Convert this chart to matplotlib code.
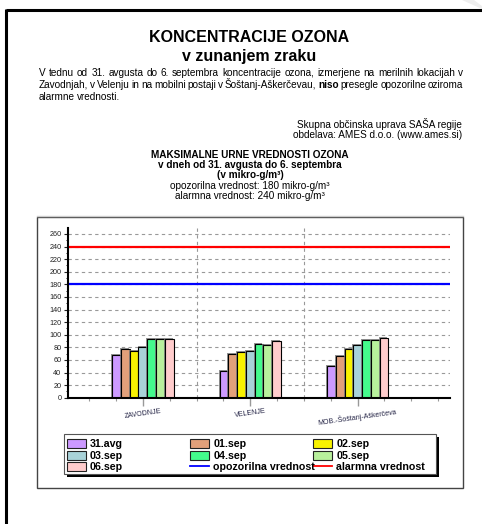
import matplotlib
matplotlib.use("Agg")
import matplotlib.pyplot as plt
from matplotlib.patches import Rectangle
import matplotlib.patheffects as pe
import numpy as np

plt.rcParams['font.family'] = ['Liberation Sans', 'DejaVu Sans']

# podatki (maksimalne urne vrednosti ozona, mikro-g/m3)
lokacije = ['ZAVODNJE', 'VELENJE', 'MOB.-Šoštanj-Aškerčeva']
dnevi = ['31.avg', '01.sep', '02.sep', '03.sep', '04.sep', '05.sep', '06.sep']
vrednosti = [
    [68, 43, 50],   # 31.avg
    [78, 69, 67],   # 01.sep
    [74, 73, 77],   # 02.sep
    [81, 74, 84],   # 03.sep
    [93, 86, 92],   # 04.sep
    [94, 83, 92],   # 05.sep
    [93, 90, 95],   # 06.sep
]
opozorilna = 180
alarmna = 240
barve = ['#CC99FF', '#E2A07A', '#F8F200', '#A8D2D8', '#44FA8C', '#B8F09C', '#FFCCCC']

W, H = 482, 524
fig = plt.figure(figsize=(W / 100, H / 100), dpi=100)

# ozadje v pikslih (okvirji, besedila, legenda)
bg = fig.add_axes([0, 0, 1, 1], zorder=0)
bg.set_xlim(0, W)
bg.set_ylim(H, 0)
bg.axis('off')

# okvir strani
bg.plot([6, W], [10, 10], color='black', lw=2.2, solid_capstyle='butt')
bg.plot([6, 6], [9, H], color='black', lw=2.2, solid_capstyle='butt')
bg.fill([462, 474, W, W], [0, 0, 6, 9], color='#eeeeee', lw=0)

# okvir grafa
bg.plot([37, 463], [215.5, 215.5], color='#cccccc', lw=1)
bg.add_patch(Rectangle((37, 216.7), 426, 271.3, fill=False, edgecolor='#444444', lw=1))

# naslov
bg.text(249.5, 42.4, 'KONCENTRACIJE OZONA', ha='center', va='baseline',
        fontsize=11.5, fontweight='bold')
bg.text(249.5, 60.5, 'v zunanjem zraku', ha='center', va='baseline',
        fontsize=11.5, fontweight='bold')

# odstavek, poravnan obojestransko
vrstice = [
    'V tednu od 31. avgusta do 6. septembra koncentracije ozona, izmerjene na merilnih lokacijah v',
    'Zavodnjah, v Velenju in na mobilni postaji v Šoštanj-Aškerčevau, niso presegle opozorilne oziroma',
    'alarmne vrednosti.',
]
vrstice_y = [75.5, 87.8, 100.1]
renderer = fig.canvas.get_renderer()
for i, (vr, y) in enumerate(zip(vrstice, vrstice_y)):
    besede = vr.split(' ')
    tt = [bg.text(0, y, b, ha='left', va='baseline', fontsize=7.2,
                  fontweight='bold' if b == 'niso' else 'normal') for b in besede]
    sirine = [t.get_window_extent(renderer).width for t in tt]
    if i < len(vrstice) - 1:
        presledek = (463.3 - 39 - sum(sirine)) / (len(besede) - 1)
    else:
        presledek = 2.0
    x = 39
    for t, s in zip(tt, sirine):
        t.set_x(x)
        x += s + presledek

bg.text(462, 127.7, 'Skupna občinska uprava SAŠA regije', ha='right', va='baseline', fontsize=7.2)
bg.text(462, 137.7, 'obdelava: AMES d.o.o. (www.ames.si)', ha='right', va='baseline', fontsize=7.2)

bg.text(250, 157.7, 'MAKSIMALNE URNE VREDNOSTI OZONA', ha='center', va='baseline',
        fontsize=7.2, fontweight='bold')
bg.text(250, 168.3, 'v dneh od 31. avgusta do 6. septembra', ha='center', va='baseline',
        fontsize=7.2, fontweight='bold')
bg.text(250, 178.4, '(v mikro-g/m³)', ha='center', va='baseline', fontsize=7.2, fontweight='bold')
bg.text(250, 188.8, f'opozorilna vrednost: {opozorilna} mikro-g/m³', ha='center', va='baseline',
        fontsize=7.2)
bg.text(250, 199.3, f'alarmna vrednost: {alarmna} mikro-g/m³', ha='center', va='baseline',
        fontsize=7.2)

# graf
x0, x1 = 67.7, 450
yb, yt = 397.7, 227.7
ax = fig.add_axes([x0 / W, 1 - yb / H, (x1 - x0) / W, (yb - yt) / H], zorder=1)
ax.patch.set_alpha(0)

x = np.arange(len(lokacije))
w = 0.0816
for i, (dan, vals) in enumerate(zip(dnevi, vrednosti)):
    ax.bar(x + (i - 3) * w, vals, width=w, color=barve[i], edgecolor='black', lw=0.8,
           zorder=3,
           path_effects=[pe.SimplePatchShadow(offset=(-0.7, 0.7), shadow_rgbFace='#777777',
                                              alpha=0.8), pe.Normal()])

ax.axhline(opozorilna, color='#0000FF', lw=1.6, zorder=4)
ax.axhline(alarmna, color='#FF0000', lw=1.6, zorder=4)

ax.set_xlim(-0.7, 2.86)
ax.set_ylim(0, 270)
ax.set_yticks(np.arange(0, 261, 20))
ax.set_yticks(np.arange(0, 270, 10), minor=True)
ax.set_xticks(x)
ax.set_xticklabels(lokacije, rotation=8, fontsize=5, color='#222244')
ax.set_xticks(np.arange(-0.5, 2.86, 0.25), minor=True)
ax.tick_params(axis='y', labelsize=5.2, length=3, width=0.8, pad=1.5, colors='#222222')
ax.tick_params(axis='y', which='minor', length=1.5, width=0.6)
ax.tick_params(axis='x', which='major', length=6, width=1, color='#999999', pad=1)
ax.tick_params(axis='x', which='minor', length=2.5, width=0.8, color='#999999')

ax.yaxis.grid(True, linestyle=(0, (3, 3)), color='#999999', lw=0.8, zorder=0)
for xv in [0.5, 1.5]:
    ax.axvline(xv, linestyle=(0, (3, 3)), color='#999999', lw=0.8, zorder=0)

for s in ['top', 'right']:
    ax.spines[s].set_visible(False)
for s in ['left', 'bottom']:
    ax.spines[s].set_linewidth(1.5)
    ax.spines[s].set_color('black')
    ax.spines[s].set_zorder(5)

# legenda
bg.add_patch(Rectangle((66.8, 436.8), 371.7, 39.7, facecolor='black', edgecolor='black', lw=0))
bg.add_patch(Rectangle((64.3, 434.3), 371.7, 39.7, facecolor='white', edgecolor='#555555', lw=0.8))
stolpci = [66.7, 190.3, 313.3]
vrstice_leg = [443.3, 455, 466.3]
vnosi = [(d, ('patch', c)) for d, c in zip(dnevi, barve)]
vnosi += [('opozorilna vrednost', ('line', '#0000FF')), ('alarmna vrednost', ('line', '#FF0000'))]
for k, (oznaka, (vrsta, c)) in enumerate(vnosi):
    cx = stolpci[k % 3]
    ry = vrstice_leg[k // 3]
    if vrsta == 'patch':
        bg.add_patch(Rectangle((cx, ry - 4.5), 19, 9, facecolor=c, edgecolor='#222222', lw=0.8))
    else:
        bg.plot([cx, cx + 19], [ry, ry], color=c, lw=1.3)
    bg.text(cx + 23, ry + 4, oznaka, ha='left', va='baseline', fontsize=7.7, fontweight='bold')

fig.savefig('out.png', dpi=100)
